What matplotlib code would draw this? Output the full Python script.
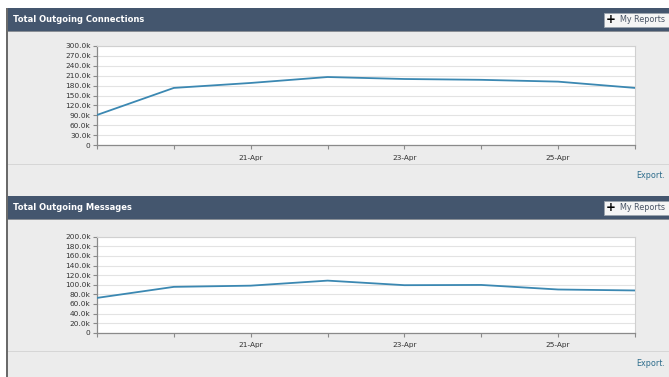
import matplotlib.pyplot as plt
from matplotlib.patches import Rectangle, FancyBboxPatch
from matplotlib.ticker import FuncFormatter, MultipleLocator

W, H = 669, 377

days = ['19-Apr', '20-Apr', '21-Apr', '22-Apr', '23-Apr', '24-Apr', '25-Apr', '26-Apr']
shown_days = ['21-Apr', '23-Apr', '25-Apr']
connections = [91000, 173000, 188000, 206000, 200000, 197500, 192000, 173000]
messages = [72500, 95500, 98000, 108500, 99000, 99500, 90000, 88000]

line_col = '#3b88b2'
head_col = '#44566e'
body_col = '#ececec'

fig = plt.figure(figsize=(W / 100, H / 100), dpi=100)
fig.patch.set_facecolor('white')


def px(x, y):
    # pixel coords (top-left origin) -> figure fraction
    return x / W, 1 - y / H


def rect(x0, y0, x1, y1, **kw):
    fx, fy = px(x0, y1)
    fig.patches.append(Rectangle((fx, fy), (x1 - x0) / W, (y1 - y0) / H,
                                 transform=fig.transFigure, **kw))


def kfmt(v, pos):
    if v == 0:
        return '0'
    return '%.1fk' % (v / 1000)


def panel(top, bottom, sep, title):
    rect(7, top, W, bottom, facecolor=body_col, edgecolor='none', zorder=0)
    rect(7, top, W, top + 23, facecolor=head_col, edgecolor='none', zorder=1)
    rect(7, top + 23, W, top + 24, facecolor='#8a8f96', edgecolor='none', zorder=1)
    rect(6, top, 8, bottom, facecolor='#6a6a6a', edgecolor='none', zorder=2)
    rect(8, sep, W, sep + 1, facecolor='#d6d6d6', edgecolor='none', zorder=1)
    x, y = px(13, top + 11.5)
    fig.text(x, y, title, color='white', fontsize=6, fontweight='bold', va='center', ha='left')
    # My Reports button
    bx0, by1 = px(604, top + 18.5)
    btn = FancyBboxPatch((bx0, by1), 70 / W, 14 / H, boxstyle='square,pad=0',
                         transform=fig.transFigure, facecolor='#f5f5f5',
                         edgecolor='#9aa3ad', linewidth=0.6, zorder=3)
    fig.patches.append(btn)
    x, y = px(606, top + 11.5)
    fig.text(x, y, '+', color='black', fontsize=8.5, fontweight='bold', va='center', ha='left', zorder=4)
    x, y = px(620, top + 11.5)
    fig.text(x, y, 'My Reports', color='#4a5566', fontsize=5.8, va='center', ha='left', zorder=4)
    x, y = px(636, sep + 12)
    fig.text(x, y, 'Export.', color='#2e6d8c', fontsize=5.8, va='center', ha='left')


def chart(y_top, y_bot, values, ymax, step):
    x0, y0 = px(97, y_bot)
    ax = fig.add_axes([x0, y0, (635 - 97) / W, (y_bot - y_top) / H])
    ax.set_zorder(5)
    ax.set_facecolor('white')
    xs = list(range(len(days)))
    ax.plot(xs, values, color=line_col, linewidth=1.3, zorder=3)
    ax.set_xlim(0, len(days) - 1)
    ax.set_ylim(0, ymax)
    ax.yaxis.set_major_locator(MultipleLocator(step))
    ax.yaxis.set_major_formatter(FuncFormatter(kfmt))
    ax.set_xticks(xs)
    ax.set_xticklabels([d if d in shown_days else '' for d in days])
    ax.grid(axis='y', color='#e3e3e3', linewidth=0.8)
    ax.set_axisbelow(True)
    for s in ['top', 'right']:
        ax.spines[s].set_color('#d0d0d0')
        ax.spines[s].set_linewidth(0.8)
    for s in ['left', 'bottom']:
        ax.spines[s].set_color('#8a8a8a')
        ax.spines[s].set_linewidth(0.9)
    ax.tick_params(axis='both', colors='#8a8a8a', labelcolor='#333333',
                   labelsize=5.3, length=3, width=0.8, pad=1.5)
    ax.tick_params(axis='x', pad=4)
    return ax


panel(8, 196, 164, 'Total Outgoing Connections')
panel(196, H, 351, 'Total Outgoing Messages')

chart(46, 145, connections, 300000, 30000)
chart(236.7, 332.7, messages, 200000, 20000)

fig.savefig('out.png', dpi=100, facecolor=fig.get_facecolor())
